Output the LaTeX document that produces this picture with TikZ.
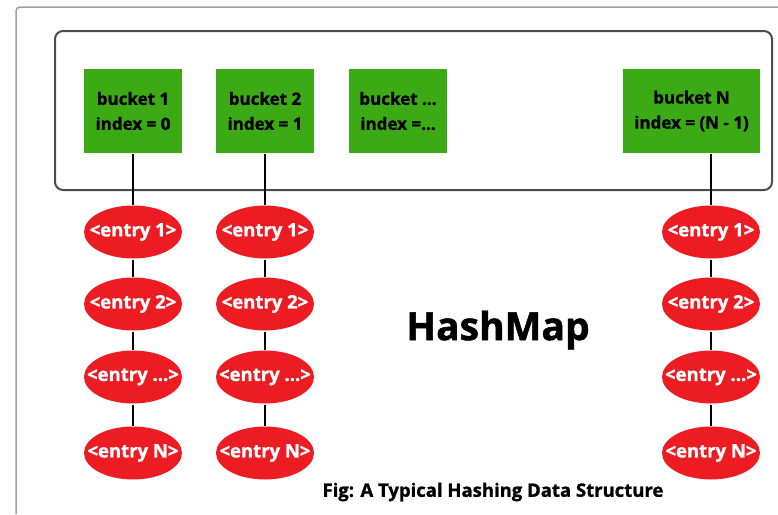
\documentclass[tikz,border=0pt]{standalone}
\usepackage{fontspec}
\setmainfont[BoldFeatures={FakeBold=1.2}]{Open Sans}
\usepackage{tikz}
\usetikzlibrary{positioning}
\usetikzlibrary{shapes}
\definecolor{bucketgreen}{RGB}{60,170,20}
\definecolor{entryred}{RGB}{236,28,34}
\newcommand{\entrytext}[1]{\makebox[0pt]{#1}}
\tikzstyle{bucket}=[rectangle,fill=bucketgreen,minimum width=98,minimum height=84,align=center,inner sep=2,font=\fontsize{17}{25}\selectfont\bfseries]
\tikzstyle{entry}=[ellipse,fill=entryred,minimum width=98,minimum height=53,inner sep=0,text=white,font=\fontsize{18.5}{20}\selectfont\bfseries]

\begin{document}
\begin{tikzpicture}[x=1pt,y=-1pt]

      \tikzstyle{every path}=[line width=2]
      \useasboundingbox (0,0) rectangle (778,514);

      \draw[gray!75,line width=1.5,rounded corners=4] (16,514) -- (16,7) -- (778,7);
      \draw[black!70,rounded corners=8] (55,31) rectangle (772,190);

      \node[bucket] (bucket_1) at (133,111) {bucket 1\\index = 0};
      \node[bucket] (bucket_2) at (265,111) {bucket 2\\index = 1};
      \node[bucket] (bucket_dots) at (398,111) {bucket ...\\index =...};
      \node[bucket, minimum width=137] (bucket_n) at (691.5,111) {bucket N\\index = (N - 1)};

      \node[entry] (entry_1_1) at (133,232) {\entrytext{<entry 1>}};
      \node[entry] (entry_1_2) at (133,304) {\entrytext{<entry 2>}};
      \node[entry] (entry_1_dots) at (133,377) {\entrytext{<entry ...>}};
      \node[entry] (entry_1_n) at (133,453) {\entrytext{<entry N>}};

      \node[entry] (entry_2_1) at (265,232) {\entrytext{<entry 1>}};
      \node[entry] (entry_2_2) at (265,304) {\entrytext{<entry 2>}};
      \node[entry] (entry_2_dots) at (265,377) {\entrytext{<entry ...>}};
      \node[entry] (entry_2_n) at (265,453) {\entrytext{<entry N>}};

      \node[entry] (entry_n_1) at (711,232) {\entrytext{<entry 1>}};
      \node[entry] (entry_n_2) at (711,304) {\entrytext{<entry 2>}};
      \node[entry] (entry_n_dots) at (711,377) {\entrytext{<entry ...>}};
      \node[entry] (entry_n_n) at (711,453) {\entrytext{<entry N>}};

      \draw (bucket_1) -- (entry_1_1);
      \draw (entry_1_1) -- (entry_1_2);
      \draw (entry_1_2) -- (entry_1_dots);
      \draw (entry_1_dots) -- (entry_1_n);

      \draw (bucket_2) -- (entry_2_1);
      \draw (entry_2_1) -- (entry_2_2);
      \draw (entry_2_2) -- (entry_2_dots);
      \draw (entry_2_dots) -- (entry_2_n);

      \draw (bucket_n.south -| entry_n_1) -- (entry_n_1);
      \draw (entry_n_1) -- (entry_n_2);
      \draw (entry_n_2) -- (entry_n_dots);
      \draw (entry_n_dots) -- (entry_n_n);

      \node[font=\fontsize{39}{40}\selectfont\bfseries] (hashmap) at (498,330) {HashMap};
      \node[font=\fontsize{18.5}{20}\selectfont\bfseries] (caption) at (493,492) {Fig: A Typical Hashing Data Structure};
    \end{tikzpicture}
\end{document}
